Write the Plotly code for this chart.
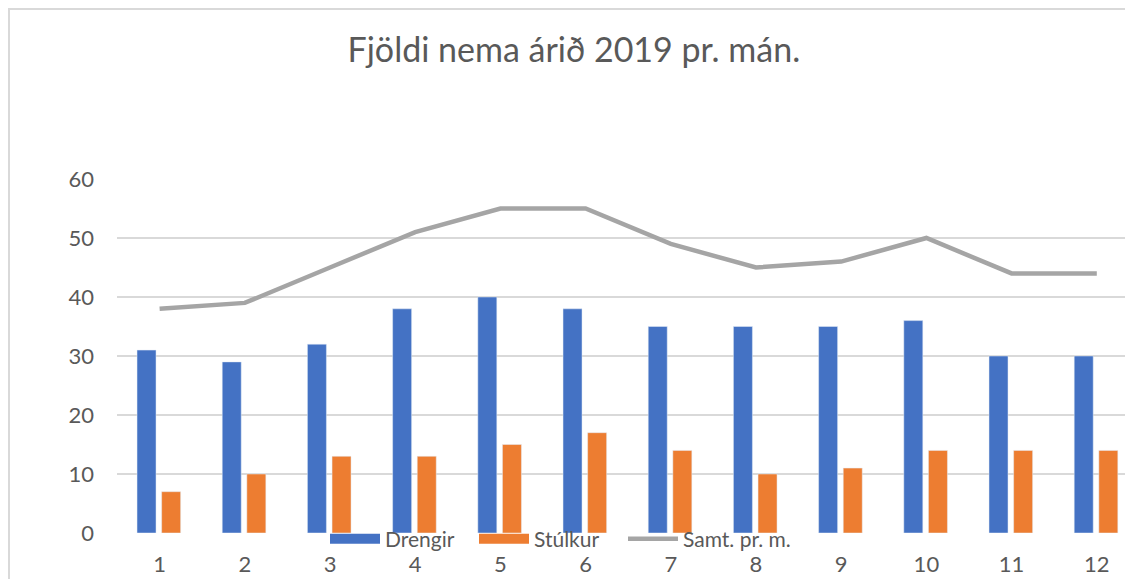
import plotly.graph_objects as go

months = [1, 2, 3, 4, 5, 6, 7, 8, 9, 10, 11, 12]
tick_labels = ["1", "2", "3", "4", "5", "6", "7", "8", "9", "10", "11", "12"]
drengir = [31, 29, 32, 38, 40, 38, 35, 35, 35, 36, 30, 30]
stulkur = [7, 10, 13, 13, 15, 17, 14, 10, 11, 14, 14, 14]
samt = [38, 39, 45, 51, 55, 55, 49, 45, 46, 50, 44, 44]

BLUE = "#4472C4"
ORANGE = "#ED7D31"
GRAY = "#A5A5A5"
TEXT = "#595959"
GRID = "#D9D9D9"
FONT = "Lato"

W, H = 1125, 571
L, T, B = 109, 171, 46
PW = W - L
PH = H - T - B

fig = go.Figure()
fig.add_trace(go.Bar(x=months, y=drengir, name="Drengir", marker_color=BLUE,
                     width=0.223, offset=-0.265, showlegend=False, legendgroup="d"))
fig.add_trace(go.Bar(x=months, y=stulkur, name="Stúlkur", marker_color=ORANGE,
                     width=0.223, offset=0.024, showlegend=False, legendgroup="s"))
fig.add_trace(go.Scatter(x=months, y=samt, name="Samt. pr. m.", mode="lines",
                         line=dict(color=GRAY, width=4.5), showlegend=False, legendgroup="t"))
# legend entries (wide swatches like the original)
fig.add_trace(go.Scatter(x=[None], y=[None], name="Drengir", mode="lines",
                         line=dict(color=BLUE, width=13), legendgroup="d"))
fig.add_trace(go.Scatter(x=[None], y=[None], name="Stúlkur", mode="lines",
                         line=dict(color=ORANGE, width=13), legendgroup="s"))
fig.add_trace(go.Scatter(x=[None], y=[None], name="Samt. pr. m.", mode="lines",
                         line=dict(color=GRAY, width=4.5), legendgroup="t"))
# spacer entry so the last legend label is not clipped
fig.add_trace(go.Scatter(x=[None], y=[None], name=" ", mode="lines",
                         line=dict(color="rgba(0,0,0,0)", width=0), legendgroup="x"))

fig.update_layout(
    width=W, height=H,
    margin=dict(l=L, r=0, t=T, b=B),
    paper_bgcolor="white", plot_bgcolor="white",
    font=dict(family=FONT, color=TEXT, size=21),
    title=dict(text="Fjöldi nema árið 2019 pr. mán.", x=0.503, xanchor="center",
               y=1 - 42 / H, yanchor="middle", font=dict(size=34, color=TEXT, family=FONT)),
    xaxis=dict(range=[0.5, 12.425], tickmode="array", tickvals=months, ticktext=tick_labels,
               showgrid=False, zeroline=False, showline=False, ticks="",
               ticklabelstandoff=16, tickfont=dict(size=22)),
    yaxis=dict(range=[0, 60], dtick=10, showgrid=True, gridcolor=GRID, gridwidth=2,
               zeroline=False, showline=False, ticks="", ticklabelstandoff=22,
               tickfont=dict(size=22)),
    legend=dict(orientation="h", x=(317 - L) / PW, xanchor="left", y=-6 / PH, yanchor="middle",
                itemwidth=50, entrywidth=84, entrywidthmode="pixels",
                font=dict(size=21, color=TEXT), bgcolor="rgba(0,0,0,0)",
                traceorder="normal", tracegroupgap=0),
    shapes=[dict(type="rect", xref="paper", yref="paper",
                 x0=(1 - L) / PW, x1=1.05, y0=-0.3, y1=1 + (T - 1) / PH,
                 line=dict(color=GRID, width=2), layer="below")],
    showlegend=True,
)
fig.write_html("out.html")
